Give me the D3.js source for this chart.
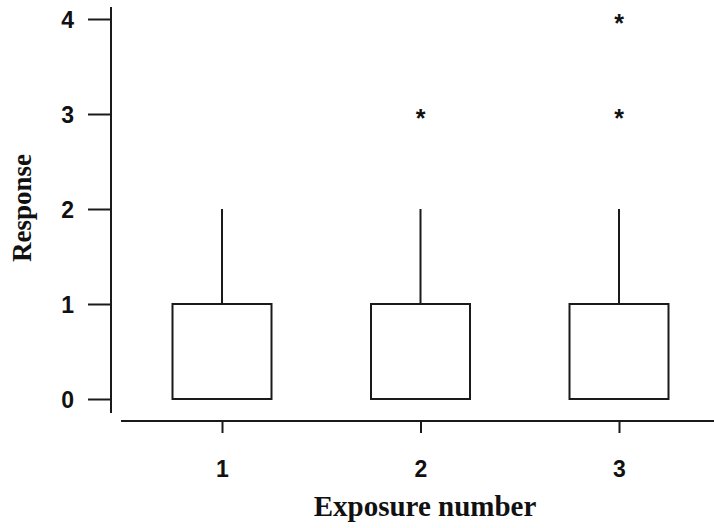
<!DOCTYPE html>
<html><head><meta charset="utf-8">
<script src="https://cdn.jsdelivr.net/npm/d3@7"></script>
<style>body{margin:0;background:#fff}svg{display:block}</style>
</head><body>
<script>
const categories = ["1","2","3"];
const q1 = [0,0,0];
const median = [0,0,0];
const q3 = [1,1,1];
const whiskerLow = [0,0,0];
const whiskerHigh = [2,2,2];
const outliers = [[],[3],[3,4]];
const yTicks = [0,1,2,3,4];

const W=714,H=528;
const svg=d3.select("body").append("svg").attr("width",W).attr("height",H);
const y=d3.scaleLinear().domain([0,4]).range([399,19]);
const x=d3.scalePoint().domain(categories).range([222,619]);
const boxW=99;
const ink="#1a1a1a";

// y axis
const ya=svg.append("g").attr("transform","translate(111,0)")
  .call(d3.axisLeft(y).tickValues(yTicks).tickFormat(d3.format("d")).tickSize(23).tickPadding(14).tickSizeOuter(0));
ya.select(".domain").attr("d","M0,7V413").attr("stroke",ink).attr("stroke-width",2);
ya.selectAll(".tick line").attr("stroke",ink).attr("stroke-width",2);
ya.selectAll(".tick text").attr("font-family","Liberation Sans, Arial, sans-serif").attr("font-weight","bold").attr("font-size",23).attr("fill","#111").attr("dy","0.36em");

// x axis
const xa=svg.append("g").attr("transform","translate(0,421)")
  .call(d3.axisBottom(x).tickSize(12).tickPadding(28).tickSizeOuter(0));
xa.select(".domain").attr("d","M121,0H714").attr("stroke",ink).attr("stroke-width",2);
xa.selectAll(".tick line").attr("stroke",ink).attr("stroke-width",2);
xa.selectAll(".tick text").attr("font-family","Liberation Sans, Arial, sans-serif").attr("font-weight","bold").attr("font-size",23).attr("fill","#111");

const data=categories.map((c,i)=>({c,q1:q1[i],med:median[i],q3:q3[i],lo:whiskerLow[i],hi:whiskerHigh[i],out:outliers[i]}));
const g=svg.append("g");
const b=g.selectAll("g.box").data(data).join("g").attr("class","box");
b.append("line").attr("x1",d=>x(d.c)).attr("x2",d=>x(d.c)).attr("y1",d=>y(d.q3)).attr("y2",d=>y(d.hi)).attr("stroke",ink).attr("stroke-width",2);
b.append("line").attr("x1",d=>x(d.c)).attr("x2",d=>x(d.c)).attr("y1",d=>y(d.lo)).attr("y2",d=>y(d.q1)).attr("stroke",ink).attr("stroke-width",2);
b.append("rect").attr("x",d=>x(d.c)-boxW/2).attr("width",boxW).attr("y",d=>y(d.q3)).attr("height",d=>y(d.q1)-y(d.q3)).attr("fill","#fff").attr("stroke",ink).attr("stroke-width",2);
b.append("line").attr("x1",d=>x(d.c)-boxW/2).attr("x2",d=>x(d.c)+boxW/2).attr("y1",d=>y(d.med)).attr("y2",d=>y(d.med)).attr("stroke",ink).attr("stroke-width",2);
b.selectAll("text.out").data(d=>d.out.map(v=>({c:d.c,v}))).join("text").attr("class","out")
  .attr("x",d=>x(d.c)).attr("y",d=>y(d.v)).attr("dy","0.52em").attr("text-anchor","middle")
  .attr("font-family","Liberation Sans, Arial, sans-serif").attr("font-weight","bold").attr("font-size",25).attr("fill","#111").text("*");

svg.append("text").attr("x",425).attr("y",516).attr("text-anchor","middle")
  .attr("font-family","Liberation Serif, Times New Roman, serif").attr("font-weight","bold").attr("font-size",29).attr("fill","#111").text("Exposure number");
svg.append("text").attr("transform","translate(31,208) rotate(-90)").attr("text-anchor","middle")
  .attr("font-family","Liberation Serif, Times New Roman, serif").attr("font-weight","bold").attr("font-size",27).attr("fill","#111").text("Response");
</script>
</body></html>
